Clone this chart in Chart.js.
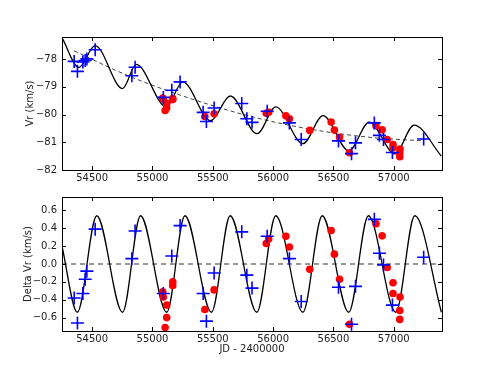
<!DOCTYPE html>
<html lang="en">
<head>
    <meta charset="UTF-8">
    <title>Vr and Delta Vr vs JD</title>
    <style>
        body {
            margin: 0;
            padding: 0;
            background: #ffffff;
            font-family: "DejaVu Sans", sans-serif;
        }
        .panel {
            position: absolute;
            left: 0;
            width: 491px;
        }
        #topPanel { top: 0; height: 185px; }
        #bottomPanel { top: 185px; height: 183px; }
    </style>
    <script src="https://cdn.jsdelivr.net/npm/chart.js"></script>
</head>
<body>

<div class="panel" id="topPanel"><canvas id="vrChart"></canvas></div>
<div class="panel" id="bottomPanel"><canvas id="dvrChart"></canvas></div>

<script>
    // ---- data (JD - 2400000) ----
    const crossJD  = [54351, 54378, 54423, 54442, 54456, 54525, 54829, 54856, 55090, 55160,
                      55229, 55420, 55447, 55511, 55740, 55782, 55825, 55951, 56135, 56233,
                      56542, 56650, 56683, 56839, 56881, 56915, 56989, 57248];
    const crossVr  = [-78.08, -78.44, -78.10, -78.05, -77.99, -77.66, -78.60, -78.29, -79.38, -79.12,
                      -78.82, -79.92, -80.25, -79.76, -79.60, -80.15, -80.28, -79.88, -80.30, -80.90,
                      -80.95, -81.41, -81.02, -80.30, -80.75, -80.90, -81.37, -80.88];
    const crossDVr = [-0.38, -0.66, -0.33, -0.17, -0.08, 0.39, 0.06, 0.37, -0.33, 0.09,
                      0.43, -0.33, -0.64, -0.10, 0.36, -0.125, -0.27, 0.31, 0.06, -0.42,
                      -0.26, -0.675, -0.25, 0.50, 0.12, -0.01, -0.46, 0.075];

    const dotJD  = [55085, 55090, 55105, 55118, 55118, 55168, 55168, 55434, 55511, 55943,
                    55963, 56106, 56135, 56304, 56481, 56508, 56551, 56633, 56853, 56904,
                    56946, 56994, 56994, 57052, 57050, 57050];
    const dotVr  = [-79.40, -79.45, -79.85, -79.60, -79.75, -79.42, -79.46, -80.07, -79.97, -79.95,
                    -79.92, -80.04, -80.15, -80.57, -80.27, -80.56, -80.82, -81.38, -80.40, -80.55,
                    -80.90, -81.08, -81.20, -81.24, -81.38, -81.52];
    const dotDVr = [-0.31, -0.37, -0.71, -0.46, -0.60, -0.20, -0.24, -0.51, -0.29, 0.23,
                    0.28, 0.31, 0.19, -0.06, 0.375, 0.11, -0.17, -0.675, 0.45, 0.315,
                    -0.04, -0.21, -0.33, -0.37, -0.52, -0.62];

    // model curve (turning points)
    const fitJD = [54250, 54390, 54524, 54752, 54865, 55115, 55250, 55482, 55645, 55868,
                   56022, 56247, 56414, 56628, 56797, 57010, 57168, 57395];
    const fitVr = [-77.22, -78.30, -77.51, -79.06, -78.19, -79.72, -78.82, -80.22, -79.33, -80.69,
                   -79.72, -81.05, -80.04, -81.31, -80.27, -81.42, -80.38, -81.50];

    const trendJD = [54350, 54800, 55300, 55800, 56300, 56800, 57250];
    const trendVr = [-77.70, -78.60, -79.40, -80.05, -80.52, -80.82, -80.95];

    const resJD  = [54250, 54377, 54538, 54752, 54901, 55118, 55269, 55489, 55644, 55865,
                    56022, 56247, 56407, 56627, 56790, 57017, 57174, 57395];
    const resDVr = [0.20, -0.54, 0.54, -0.54, 0.54, -0.54, 0.54, -0.54, 0.54, -0.54,
                    0.54, -0.54, 0.54, -0.54, 0.54, -0.54, 0.54, -0.54];

    const zeroJD  = [54250, 57400];
    const zeroDVr = [0, 0];

    // ---- axes ----
    const xRange = [54250, 57400];
    const xTicks = [54500, 55000, 55500, 56000, 56500, 57000];
    const xTickLabels = ['54500', '55000', '55500', '56000', '56500', '57000'];

    const vrRange = [-82, -77.2];
    const vrTicks = [-82, -81, -80, -79, -78];
    const vrTickLabels = ['\u221282', '\u221281', '\u221280', '\u221279', '\u221278'];

    const dvrRange = [-0.75, 0.75];
    const dvrTicks = [-0.6, -0.4, -0.2, 0.0, 0.2, 0.4, 0.6];
    const dvrTickLabels = ['\u22120.6', '\u22120.4', '\u22120.2', '0.0', '0.2', '0.4', '0.6'];

    const pts = (xs, ys) => xs.map((x, i) => ({ x: x, y: ys[i] }));
    const tickFont = { family: 'DejaVu Sans', size: 10 };
    const textColor = '#222';

    // black frame + inward ticks on every side, like the original
    const frameTicks = {
        id: 'frameTicks',
        afterDatasetsDraw(chart) {
            const { ctx, chartArea: a, scales } = chart;
            const x = scales.x, y = scales.y;
            ctx.save();
            ctx.strokeStyle = '#000';
            ctx.lineWidth = 1;
            ctx.beginPath();
            x.ticks.forEach(t => {
                const px = Math.round(x.getPixelForValue(t.value)) + 0.5;
                ctx.moveTo(px, a.bottom); ctx.lineTo(px, a.bottom - 4);
                ctx.moveTo(px, a.top); ctx.lineTo(px, a.top + 4);
            });
            y.ticks.forEach(t => {
                const py = Math.round(y.getPixelForValue(t.value)) + 0.5;
                ctx.moveTo(a.left, py); ctx.lineTo(a.left + 4, py);
                ctx.moveTo(a.right, py); ctx.lineTo(a.right - 4, py);
            });
            ctx.stroke();
            ctx.strokeRect(Math.round(a.left) + 0.5, Math.round(a.top) + 0.5,
                           Math.round(a.right - a.left), Math.round(a.bottom - a.top));
            ctx.restore();
        }
    };

    function xScale(height, title) {
        return {
            type: 'linear',
            min: xRange[0],
            max: xRange[1],
            afterBuildTicks: s => { s.ticks = xTicks.map(v => ({ value: v })); },
            afterFit: s => { s.height = height; },
            ticks: {
                autoSkip: false,
                maxRotation: 0,
                padding: 2,
                font: tickFont,
                color: textColor,
                callback: (v) => xTickLabels[xTicks.indexOf(v)]
            },
            grid: { display: false, drawTicks: false },
            border: { display: false },
            title: title
        };
    }

    function yScale(range, ticks, labels, title, titlePad) {
        return {
            type: 'linear',
            min: range[0],
            max: range[1],
            afterBuildTicks: s => { s.ticks = ticks.map(v => ({ value: v })); },
            afterFit: s => { s.width = 62; },
            ticks: {
                autoSkip: false,
                padding: 5,
                font: tickFont,
                color: textColor,
                callback: (v) => labels[ticks.findIndex(t => Math.abs(t - v) < 1e-9)]
            },
            grid: { display: false, drawTicks: false },
            border: { display: false },
            title: { display: true, text: title, font: tickFont, color: textColor,
                     padding: { top: titlePad, bottom: 0 } }
        };
    }

    const crossStyle = {
        pointStyle: 'cross', pointRadius: 6.5, pointBorderWidth: 1.6,
        borderColor: '#0000ff', backgroundColor: '#0000ff'
    };
    const dotStyle = {
        pointStyle: 'circle', pointRadius: 3.8, pointBorderWidth: 0,
        borderColor: '#ff0000', backgroundColor: '#ff0000'
    };

    const baseOptions = {
        responsive: true,
        maintainAspectRatio: false,
        animation: false,
        events: [],
        plugins: { legend: { display: false }, tooltip: { enabled: false } }
    };

    new Chart(document.getElementById('vrChart'), {
        type: 'scatter',
        data: {
            datasets: [
                { data: pts(crossJD, crossVr), order: 1, ...crossStyle },
                { data: pts(dotJD, dotVr), order: 2, ...dotStyle },
                { type: 'line', data: pts(fitJD, fitVr), order: 3, borderColor: '#000',
                  borderWidth: 1.3, pointRadius: 0, fill: false, cubicInterpolationMode: 'monotone' },
                { type: 'line', data: pts(trendJD, trendVr), order: 4, borderColor: '#444',
                  borderWidth: 1, borderDash: [4, 3], pointRadius: 0, fill: false,
                  cubicInterpolationMode: 'monotone' }
            ]
        },
        options: {
            ...baseOptions,
            layout: { padding: { top: 37, right: 49, bottom: 0, left: 0 } },
            scales: {
                x: xScale(15, { display: false }),
                y: yScale(vrRange, vrTicks, vrTickLabels, 'Vr (km/s)', 24)
            }
        },
        plugins: [frameTicks]
    });

    new Chart(document.getElementById('dvrChart'), {
        type: 'scatter',
        data: {
            datasets: [
                { data: pts(crossJD, crossDVr), order: 1, ...crossStyle },
                { data: pts(dotJD, dotDVr), order: 2, ...dotStyle },
                { type: 'line', data: pts(resJD, resDVr), order: 3, borderColor: '#000',
                  borderWidth: 1.3, pointRadius: 0, fill: false, cubicInterpolationMode: 'monotone' },
                { type: 'line', data: pts(zeroJD, zeroDVr), order: 4, borderColor: '#777',
                  borderWidth: 1.5, borderDash: [5, 4], pointRadius: 0, fill: false }
            ]
        },
        options: {
            ...baseOptions,
            layout: { padding: { top: 12, right: 49, bottom: 0, left: 0 } },
            scales: {
                x: xScale(37, { display: true, text: 'JD - 2400000', font: tickFont,
                                color: textColor, padding: { top: 0, bottom: 13 } }),
                y: yScale(dvrRange, dvrTicks, dvrTickLabels, 'Delta Vr (km/s)', 22)
            }
        },
        plugins: [frameTicks]
    });
</script>

</body>
</html>
